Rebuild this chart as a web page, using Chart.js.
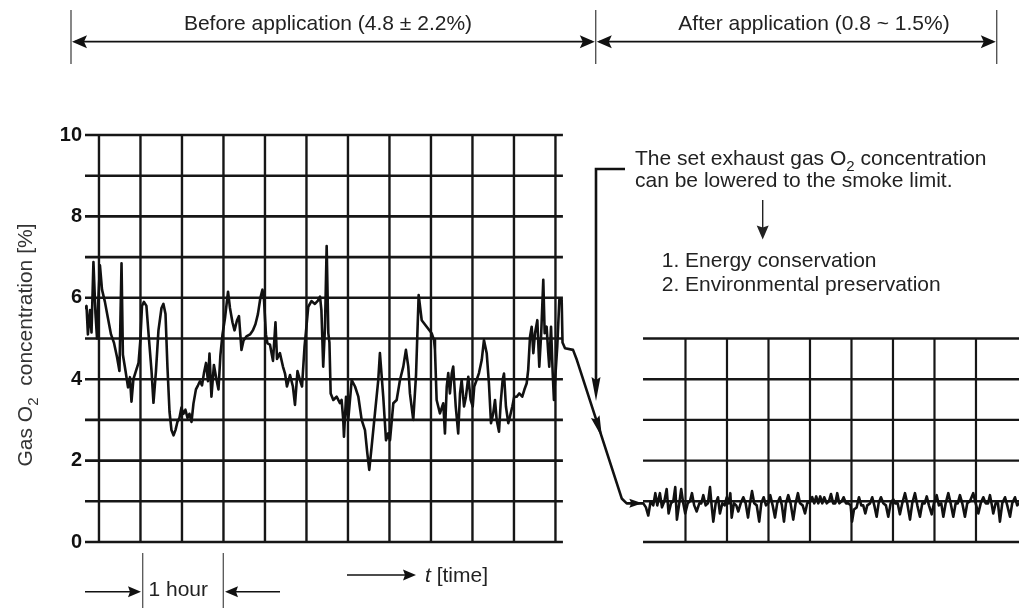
<!DOCTYPE html>
<html><head><meta charset="utf-8">
<script src="https://cdn.jsdelivr.net/npm/chart.js@4.4.1/dist/chart.umd.min.js"></script>
<style>html,body{margin:0;padding:0;background:#fff}#wrap{width:1019px;height:608px;position:relative}canvas{display:block}</style>
</head><body><div id="wrap"><canvas id="c" width="1019" height="608"></canvas></div>
<script>
// ---- DATA (time in minutes from first chart-paper division, O2 in %) ----
const beforeTimes = [-10.1,-9.0,-8.0,-6.5,-5.4,-4.0,-2.5,-1.4,-0.4,0.7,2.2,4.3,6.5,8.7,10.8,13.0,14.8,16.3,17.3,19.2,21.0,22.4,23.5,24.9,26.7,28.6,30.0,31.1,32.5,34.3,36.1,38.0,39.4,41.2,43.0,45.2,46.6,48.1,49.5,51.0,52.4,53.9,55.3,56.7,58.2,59.6,61.1,62.5,64.0,65.4,66.9,68.3,70.1,71.6,73.0,74.5,75.9,77.4,78.8,79.9,81.3,83.1,84.9,86.4,87.8,89.3,91.1,93.3,94.7,96.5,98.0,99.8,101.2,103.0,104.5,106.6,109.2,111.3,113.1,114.9,116.7,118.2,119.3,120.7,121.8,123.6,125.8,127.6,128.7,130.8,133.0,134.5,135.9,138.1,140.2,141.7,143.5,145.3,146.8,148.6,150.0,151.3,153.6,156.1,158.3,159.8,160.8,162.1,163.4,164.6,165.8,166.6,167.5,169.4,171.8,174.2,175.4,176.6,177.1,178.6,180.2,182.7,185.1,187.5,189.9,192.3,194.0,195.4,197.1,199.5,201.9,203.1,205.5,207.5,209.1,210.4,212.8,215.2,217.6,220.0,221.9,223.6,224.8,227.2,229.2,231.1,233.3,236.9,240.5,242.2,242.9,244.1,246.5,248.9,250.1,251.4,252.5,253.7,255.0,256.1,257.9,259.7,261.0,262.2,263.9,265.3,267.0,268.7,270.2,271.3,273.0,274.7,276.7,278.3,280.3,281.9,283.4,285.0,286.3,287.5,289.2,290.4,291.8,292.8,294.2,295.9,297.1,298.8,300.2,302.0,303.8,306.0,307.5,309.2,310.3,311.6,312.8,314.0,315.2,316.9,318.3,319.7,321.2,322.2,323.6,324.8,325.5,326.8,328.0,328.9,329.9,331.3,332.8,334.5,335.1];
const beforeO2 = [5.75,5.8,5.1,5.7,5.15,6.88,5.6,5.0,6.0,6.8,6.2,5.9,5.5,5.1,4.9,4.55,4.2,6.85,4.6,4.2,3.8,4.05,3.45,4.0,4.2,4.4,5.0,5.8,5.9,5.8,5.0,4.2,3.42,4.2,5.2,5.75,5.85,5.6,4.3,3.2,2.75,2.62,2.75,2.95,3.05,3.3,3.15,3.25,3.05,3.15,2.95,3.4,3.75,3.85,3.95,3.85,4.15,4.4,3.95,4.63,3.57,4.35,4.0,3.75,4.6,5.1,5.5,6.15,5.75,5.4,5.2,5.45,5.55,4.72,4.95,5.05,5.1,5.2,5.35,5.6,6.0,6.2,5.95,5.1,4.88,4.85,4.45,5.4,4.5,4.64,4.31,4.14,3.82,4.1,3.82,3.37,4.2,3.98,3.82,4.8,5.3,5.78,5.92,5.85,5.93,6.03,5.7,4.31,5.29,7.27,5.13,4.9,3.65,3.49,3.57,3.41,3.49,3.0,2.59,3.57,3.0,3.98,3.82,3.57,3.0,2.75,2.18,1.77,2.34,3.16,3.98,4.64,3.57,2.5,2.67,2.5,3.41,3.49,3.98,4.31,4.72,4.31,3.65,3.0,4.1,6.07,5.45,5.29,5.13,4.96,4.72,3.49,3.16,3.41,2.67,3.82,4.15,3.65,4.14,4.31,3.33,2.67,3.65,3.98,3.33,3.57,4.06,3.49,3.33,3.82,3.98,4.15,4.47,4.96,4.64,3.9,2.92,3.16,3.49,3.0,2.71,3.41,3.98,4.14,3.33,2.92,3.08,3.33,3.57,3.57,3.65,3.57,3.74,3.9,4.23,5.04,5.29,4.64,5.13,5.45,4.31,5.13,6.44,5.13,5.29,4.64,4.31,5.29,4.15,3.49,4.06,4.8,5.95,5.95,4.9];
const transitionTimes = [336.9,342.7,345.5,377.9,381.5];
const transitionO2 = [4.76,4.72,4.47,1.07,0.95];
const afterTimes = [393.5,395.4,397.1,398.8,400.7,402.2,403.6,405.5,407.0,408.7,410.4,411.8,413.5,415.2,416.6,417.8,419.5,420.9,422.4,423.8,425.6,427.2,428.7,430.3,432.1,434.0,435.4,436.9,438.6,440.2,441.7,442.9,444.1,445.8,447.5,448.9,450.6,452.3,453.8,455.2,456.4,457.4,459.0,460.7,462.2,463.9,465.8,467.5,469.2,470.6,472.1,473.7,475.5,477.3,478.8,480.5,482.2,483.8,485.3,487.0,488.7,490.3,492.3,493.7,495.2,496.6,498.3,500.0,501.9,503.6,505.3,506.8,508.7,510.4,512.0,514.0,515.6,517.1,518.5,520.0,521.4,522.9,524.3,526.1,527.7,529.2,530.8,532.3,533.7,535.2,536.9,538.3,540.0,541.7,543.4,544.4,545.8,547.7,549.4,551.1,552.5,554.0,555.4,557.4,559.0,560.5,562.2,563.6,565.3,567.0,568.9,570.6,572.3,574.2,575.6,577.4,579.0,580.7,582.7,584.3,586.3,587.9,589.9,591.6,593.5,595.2,596.9,598.4,600.0,602.0,603.6,605.6,607.2,608.9,610.4,612.1,614.0,615.7,617.6,619.3,620.8,622.4,624.1,626.0,627.7,629.6,632.0,633.8,635.7,637.4,639.3,641.0,642.7,644.1,645.5,646.5,648.2,649.9,651.3,653.0,655.0,656.6,658.6,660.2,662.2,663.8,665.1];
const afterO2 = [0.95,0.85,0.65,1.0,0.9,1.2,0.9,1.2,0.85,1.0,1.3,0.7,0.95,1.0,1.35,0.55,0.95,1.3,0.95,0.7,0.95,1.0,1.2,0.9,0.75,0.95,0.95,1.15,0.9,0.95,1.35,0.9,0.5,0.95,1.1,0.7,0.95,0.9,1.1,0.95,1.2,0.6,0.95,0.9,0.75,0.95,1.1,0.95,0.6,0.95,1.25,0.95,0.9,0.5,0.95,1.1,0.9,0.95,1.15,0.9,0.6,0.95,1.1,0.9,0.5,0.95,1.15,0.95,0.55,0.95,1.2,0.95,0.9,0.7,0.95,1.0,1.1,0.95,1.12,0.95,1.12,0.95,1.1,0.95,1.0,1.18,0.95,0.95,1.2,0.95,1.0,1.1,0.95,0.95,0.9,0.5,0.8,0.85,1.1,0.9,0.9,0.7,0.9,0.95,1.1,0.9,0.62,0.95,1.1,0.95,0.9,0.62,0.95,1.05,0.95,0.95,0.68,0.95,1.2,0.95,0.55,0.95,1.2,0.9,0.62,0.95,0.95,1.12,0.9,0.68,0.95,1.15,0.9,0.95,0.62,0.95,1.2,0.95,0.62,0.95,0.95,1.15,0.95,0.62,0.95,1.0,1.2,0.95,0.7,0.95,1.1,0.95,0.95,1.15,0.9,0.7,0.95,0.95,0.5,0.95,1.1,0.9,0.62,0.95,1.1,0.9,0.95];

// chart-paper grid (minutes / % values)
const leftGridTimes = [0,30,60,90,120,150,180,210,240,270,300,330];
const leftGridLevels = [0,1,2,3,4,5,6,7,8,9,10];
const leftPanelSpan = [-10.1, 335.4];
const rightGridTimes = [424,454,484,514,544,574,604,634];
const rightGridLevels = [0,1,2,3,4,5];
const rightPanelSpan = [393.3, 665.1];
const yTickValues = [0,2,4,6,8,10];

const FONT = "'Liberation Sans', Arial, Helvetica, sans-serif";

const allTimes = beforeTimes.concat(transitionTimes, afterTimes);
const allO2 = beforeO2.concat(transitionO2, afterO2);

function arrowHead(ctx, x, y, angle, len, hw, notch) {
  ctx.save(); ctx.translate(x, y); ctx.rotate(angle);
  ctx.beginPath(); ctx.moveTo(0, 0); ctx.lineTo(-len, -hw); ctx.lineTo(-len + notch, 0); ctx.lineTo(-len, hw);
  ctx.closePath(); ctx.fill(); ctx.restore();
}
function line(ctx, x1, y1, x2, y2) { ctx.beginPath(); ctx.moveTo(x1, y1); ctx.lineTo(x2, y2); ctx.stroke(); }
function subText(ctx, parts, x, y, size, align) {
  const sub = Math.round(size * 0.72);
  const w = parts.map(p => { ctx.font = (p.sub ? sub : size) + 'px ' + FONT; return ctx.measureText(p.t).width; });
  const total = w.reduce((a, b) => a + b, 0);
  let cx = align === 'center' ? x - total / 2 : x;
  ctx.textAlign = 'left'; ctx.textBaseline = 'alphabetic';
  parts.forEach((p, i) => {
    ctx.font = (p.sub ? sub : size) + 'px ' + FONT;
    ctx.fillText(p.t, cx, y + (p.sub ? size * 0.28 : 0));
    cx += w[i];
  });
}

const gridPlugin = {
  id: 'paperGrid',
  beforeDatasetsDraw(chart) {
    const {ctx, scales: {x, y}} = chart;
    const X = v => x.getPixelForValue(v), Y = v => y.getPixelForValue(v);
    ctx.save(); ctx.strokeStyle = '#161616'; ctx.lineCap = 'butt';
    ctx.lineWidth = 2.6;
    leftGridLevels.forEach(v => line(ctx, X(leftPanelSpan[0]), Y(v), X(leftPanelSpan[1]), Y(v)));
    ctx.lineWidth = 2.4;
    leftGridTimes.forEach(t => line(ctx, X(t), Y(0), X(t), Y(10)));
    ctx.lineWidth = 2.4;
    rightGridLevels.forEach(v => line(ctx, X(rightPanelSpan[0]), Y(v), X(rightPanelSpan[1]), Y(v)));
    ctx.lineWidth = 2.2;
    rightGridTimes.forEach(t => line(ctx, X(t), Y(0), X(t), Y(5)));
    ctx.restore();
  }
};

const annotPlugin = {
  id: 'annotations',
  afterDraw(chart) {
    const {ctx, scales: {x, y}} = chart;
    const X = v => x.getPixelForValue(v), Y = v => y.getPixelForValue(v);
    ctx.save();
    // top span markers
    ctx.strokeStyle = '#555'; ctx.lineWidth = 1.4;
    [71, 595.7, 996.7].forEach(px => line(ctx, px, 10, px, 64));
    ctx.strokeStyle = '#111'; ctx.fillStyle = '#111'; ctx.lineWidth = 1.8;
    line(ctx, 75, 41.7, 592, 41.7); line(ctx, 599, 41.7, 993, 41.7);
    arrowHead(ctx, 72, 41.7, Math.PI, 15, 6.5, 3);
    arrowHead(ctx, 594.8, 41.7, 0, 15, 6.5, 3);
    arrowHead(ctx, 596.8, 41.7, Math.PI, 15, 6.5, 3);
    arrowHead(ctx, 995.8, 41.7, 0, 15, 6.5, 3);
    ctx.fillStyle = '#222'; ctx.font = '21px ' + FONT; ctx.textAlign = 'center'; ctx.textBaseline = 'alphabetic';
    ctx.fillText('Before application (4.8 ± 2.2%)', 328, 30);
    ctx.fillText('After application (0.8 ~ 1.5%)', 814, 30);

    // y-axis title (rotated)
    ctx.save(); ctx.translate(32, 345); ctx.rotate(-Math.PI / 2);
    ctx.fillStyle = '#333';
    subText(ctx, [{t: 'Gas O'}, {t: '2', sub: true}, {t: '  concentration [%]'}], 0, 0, 21, 'center');
    ctx.restore();

    // note block at right
    ctx.fillStyle = '#222';
    subText(ctx, [{t: 'The set exhaust gas O'}, {t: '2', sub: true}, {t: ' concentration'}], 635, 165, 21, 'left');
    subText(ctx, [{t: 'can be lowered to the smoke limit.'}], 635, 187, 21, 'left');
    subText(ctx, [{t: '1. Energy conservation'}], 661.7, 267, 21, 'left');
    subText(ctx, [{t: '2. Environmental preservation'}], 661.7, 291, 21, 'left');
    ctx.strokeStyle = '#222'; ctx.lineWidth = 1.4;
    line(ctx, 762.7, 200, 762.7, 228);
    arrowHead(ctx, 762.7, 239.5, Math.PI / 2, 14, 6, 2);

    // bracket from note to the curve
    ctx.strokeStyle = '#111'; ctx.fillStyle = '#111'; ctx.lineWidth = 2.6;
    ctx.beginPath(); ctx.moveTo(625, 169); ctx.lineTo(596, 169); ctx.lineTo(596, 385); ctx.stroke();
    arrowHead(ctx, 596, 401, Math.PI / 2, 24, 4.5, 3);

    // arrowheads drawn on the transition curve
    const p1 = {x: X(transitionTimes[2]), y: Y(transitionO2[2])};
    const p2 = {x: X(transitionTimes[3]), y: Y(transitionO2[3])};
    const f = 0.56;
    arrowHead(ctx, p1.x + f * (p2.x - p1.x), p1.y + f * (p2.y - p1.y), Math.atan2(p2.y - p1.y, p2.x - p1.x), 22, 4.5, 3);
    arrowHead(ctx, X(afterTimes[0]) - 1, Y(afterO2[0]), 0, 13, 4.5, 2);

    // bottom annotations
    ctx.strokeStyle = '#555'; ctx.lineWidth = 1.3;
    line(ctx, 142.7, 553, 142.7, 608); line(ctx, 223.3, 553, 223.3, 608);
    ctx.strokeStyle = '#111'; ctx.fillStyle = '#111'; ctx.lineWidth = 1.6;
    line(ctx, 85, 591.7, 130, 591.7); arrowHead(ctx, 141, 591.7, 0, 13, 5.5, 2);
    line(ctx, 236, 591.7, 280, 591.7); arrowHead(ctx, 225, 591.7, Math.PI, 13, 5.5, 2);
    line(ctx, 347, 575, 405, 575); arrowHead(ctx, 416, 575, 0, 13, 5.5, 2);
    ctx.fillStyle = '#222'; ctx.textAlign = 'left'; ctx.textBaseline = 'alphabetic';
    ctx.font = '21px ' + FONT; ctx.fillText('1 hour', 148.5, 596);
    ctx.font = 'italic 21px ' + FONT; ctx.fillText('t', 425, 582);
    const tw = ctx.measureText('t').width;
    ctx.font = '21px ' + FONT; ctx.fillText(' [time]', 425 + tw, 582);
    ctx.restore();
  }
};

new Chart(document.getElementById('c').getContext('2d'), {
  type: 'line',
  data: {
    datasets: [{
      data: allTimes.map((t, i) => ({x: t, y: allO2[i]})),
      borderColor: '#111', borderWidth: 2.6, pointRadius: 0, tension: 0,
      borderJoinStyle: 'round', borderCapStyle: 'round', fill: false
    }]
  },
  options: {
    responsive: false, animation: false, devicePixelRatio: 1,
    layout: {padding: {top: 135, bottom: 66, left: 0, right: 0}, autoPadding: false},
    plugins: {legend: {display: false}, tooltip: {enabled: false}},
    scales: {
      x: {type: 'linear', min: -10.1, max: 665.1, display: false},
      y: {
        type: 'linear', min: 0, max: 10,
        afterFit(s) { s.width = 85; },
        afterBuildTicks(s) { s.ticks = yTickValues.map(v => ({value: v})); },
        grid: {display: false, drawTicks: false},
        border: {display: false},
        ticks: {padding: 3, color: '#111', font: {family: FONT, weight: 'bold', size: 20}}
      }
    }
  },
  plugins: [gridPlugin, annotPlugin]
});
</script>
</body></html>
